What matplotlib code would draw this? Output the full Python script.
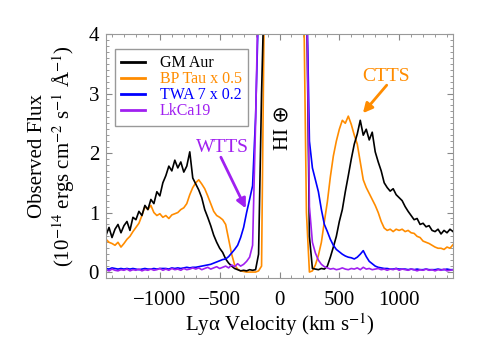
import numpy as np
import matplotlib
matplotlib.use("Agg")
import matplotlib.pyplot as plt
from matplotlib.ticker import MultipleLocator

plt.rcParams['font.family'] = ['Liberation Serif', 'DejaVu Serif']
plt.rcParams['mathtext.fontset'] = 'stix'

# velocity grid (km/s), 25 km/s bins
velocity = np.arange(-1450, 1451, 25)

gm_aur = [
    0.62, 0.75, 0.58, 0.72, 0.80, 0.66, 0.78, 0.85, 0.70, 0.92,
    0.88, 1.02, 0.95, 1.12, 1.05, 1.22, 1.15, 1.35, 1.28, 1.50,
    1.62, 1.78, 1.70, 1.88, 1.75, 1.85, 1.68, 1.78, 2.02, 1.58,
    1.48, 1.38, 1.25, 1.05, 0.92, 0.78, 0.62, 0.50, 0.40, 0.33,
    0.22, 0.15, 0.10, 0.06, 0.04, 0.02, 0.03, 0.02, 0.04, 0.03,
    0.04, 0.30, 3.00, 5.00, 5.00, 5.00, 5.00, 5.00, 5.00, 5.00,
    5.00, 5.00, 5.00, 5.00, 5.00, 5.00, 5.00, 5.00, 0.60, 0.06,
    0.05, 0.04, 0.06, 0.05, 0.10, 0.25, 0.42, 0.60, 0.85, 1.05,
    1.35, 1.62, 1.90, 2.15, 2.32, 2.55, 2.30, 2.40, 2.22, 2.35,
    2.02, 1.85, 1.70, 1.50, 1.42, 1.36, 1.40, 1.30, 1.25, 1.20,
    1.10, 1.02, 0.95, 0.88, 0.90, 0.80, 0.82, 0.76, 0.78, 0.70,
    0.68, 0.72, 0.64, 0.70, 0.66, 0.72, 0.68,
]

bp_tau = [
    0.55, 0.50, 0.48, 0.45, 0.50, 0.42, 0.48, 0.55, 0.60, 0.68,
    0.75, 0.82, 0.95, 1.10, 1.05, 1.12, 1.00, 0.95, 0.98, 0.92,
    0.95, 0.90, 0.96, 0.98, 1.00, 1.05, 1.08, 1.15, 1.30, 1.42,
    1.50, 1.55, 1.48, 1.40, 1.28, 1.15, 1.02, 0.95, 0.92, 0.88,
    0.80, 0.55, 0.30, 0.12, 0.05, 0.02, 0.01, 0.00, 0.00, 0.00,
    0.00, 0.02, 0.10, 5.00, 5.00, 5.00, 5.00, 5.00, 5.00, 5.00,
    5.00, 5.00, 5.00, 5.00, 5.00, 5.00, 5.00, 1.00, 0.00, 0.02,
    0.12, 0.28, 0.50, 0.85, 1.18, 1.60, 1.95, 2.20, 2.40, 2.55,
    2.50, 2.62, 2.48, 2.30, 2.15, 1.85, 1.55, 1.42, 1.32, 1.22,
    1.12, 1.00, 0.85, 0.74, 0.70, 0.72, 0.68, 0.72, 0.70, 0.72,
    0.68, 0.70, 0.66, 0.65, 0.60, 0.58, 0.52, 0.50, 0.48, 0.45,
    0.42, 0.40, 0.40, 0.38, 0.42, 0.40, 0.46,
]

twa7 = [
    0.06, 0.05, 0.07, 0.06, 0.05, 0.06, 0.05, 0.06, 0.05, 0.06,
    0.05, 0.04, 0.05, 0.06, 0.05, 0.05, 0.06, 0.05, 0.06, 0.06,
    0.06, 0.05, 0.07, 0.06, 0.07, 0.06, 0.07, 0.08, 0.07, 0.08,
    0.08, 0.09, 0.10, 0.11, 0.12, 0.13, 0.15, 0.17, 0.19, 0.21,
    0.22, 0.26, 0.32, 0.38, 0.45, 0.58, 0.75, 1.00, 1.22, 1.45,
    2.60, 4.50, 5.00, 5.00, 5.00, 5.00, 5.00, 5.00, 5.00, 5.00,
    5.00, 5.00, 5.00, 5.00, 5.00, 5.00, 5.00, 5.00, 2.20, 1.75,
    1.55, 1.35, 1.05, 0.80, 0.68, 0.55, 0.45, 0.38, 0.34, 0.30,
    0.27, 0.25, 0.24, 0.22, 0.25, 0.30, 0.36, 0.26, 0.18, 0.14,
    0.10, 0.08, 0.07, 0.06, 0.06, 0.05, 0.05, 0.06, 0.05, 0.05,
    0.05, 0.04, 0.05, 0.04, 0.05, 0.04, 0.04, 0.05, 0.04, 0.04,
    0.04, 0.05, 0.04, 0.04, 0.05, 0.04, 0.04,
]

lkca19 = [
    0.04, 0.02, 0.05, 0.03, 0.02, 0.04, 0.03, 0.05, 0.02, 0.04,
    0.03, 0.05, 0.02, 0.04, 0.03, 0.05, 0.03, 0.04, 0.06, 0.03,
    0.05, 0.03, 0.06, 0.04, 0.05, 0.03, 0.06, 0.04, 0.05, 0.07,
    0.05, 0.07, 0.04, 0.06, 0.08, 0.05, 0.07, 0.09, 0.06, 0.08,
    0.10, 0.07, 0.12, 0.09, 0.14, 0.10, 0.13, 0.18, 0.25, 0.45,
    2.50, 5.00, 5.00, 5.00, 5.00, 5.00, 5.00, 5.00, 5.00, 5.00,
    5.00, 5.00, 5.00, 5.00, 5.00, 5.00, 5.00, 5.00, 1.10, 0.50,
    0.32, 0.20, 0.13, 0.09, 0.07, 0.05, 0.06, 0.04, 0.05, 0.07,
    0.05, 0.04, 0.06, 0.05, 0.07, 0.04, 0.08, 0.05, 0.06, 0.04,
    0.05, 0.06, 0.04, 0.05, 0.03, 0.05, 0.04, 0.06, 0.03, 0.05,
    0.04, 0.03, 0.05, 0.04, 0.02, 0.04, 0.03, 0.05, 0.03, 0.04,
    0.02, 0.04, 0.03, 0.05, 0.02, 0.03, 0.04,
]

series_labels = ["GM Aur", "BP Tau x 0.5", "TWA 7 x 0.2", "LkCa19"]
series_colors = ["black", "#FF8C00", "#0000FF", "#A020F0"]

fig = plt.figure(figsize=(4.85, 3.46), dpi=100)
ax = fig.add_axes([0.2186, 0.1965, 0.7154, 0.7052])

data = [gm_aur, bp_tau, twa7, lkca19]
order = [1, 0, 2, 3]
handles = {}
for i in order:
    h, = ax.plot(velocity, data[i], color=series_colors[i],
                 lw=1.2, label=series_labels[i])
    handles[i] = h

ax.set_xlim(-1450, 1450)
ax.set_ylim(-0.1, 4.0)
ax.xaxis.set_major_locator(MultipleLocator(500))
ax.xaxis.set_minor_locator(MultipleLocator(100))
ax.yaxis.set_major_locator(MultipleLocator(1))
ax.yaxis.set_minor_locator(MultipleLocator(0.1))
ax.set_xticks([-1000, -500, 0, 500, 1000])
ax.tick_params(which='both', direction='in', top=True, right=True, color='#888888',
               labelsize=15)
ax.tick_params(axis='x', which='major', pad=9)
ax.tick_params(axis='y', which='major', pad=5)
ax.tick_params(which='major', length=4, width=0.8)
ax.tick_params(which='minor', length=2, width=0.6)
for s in ax.spines.values():
    s.set_color('#999999')
    s.set_linewidth(0.8)

ax.set_xlabel("Ly\u03b1 Velocity (km s$^{-1}$)", fontsize=15, labelpad=1)
ax.set_ylabel("Observed Flux\n(10$^{-14}$ ergs cm$^{-2}$ s$^{-1}$ \u00c5$^{-1}$)",
              fontsize=15, labelpad=8, linespacing=1.2)

leg = ax.legend([handles[i] for i in range(4)], series_labels, loc='upper left',
                bbox_to_anchor=(0.026, 0.939), borderaxespad=0, fontsize=11.5,
                handlelength=1.5, labelspacing=0.0, fancybox=False,
                edgecolor='#999999', framealpha=1, borderpad=0.4, handletextpad=0.9)
for t, c in zip(leg.get_texts(), series_colors):
    t.set_color(c)
for l in leg.get_lines():
    l.set_linewidth(2.0)

ax.text(30, 2.43, "HI \u2295", rotation=90, ha='center', va='center', fontsize=15,
        family=['Liberation Serif', 'DejaVu Sans'])

ax.text(-473, 2.1, "WTTS", color='#A020F0', ha='center', va='center', fontsize=14,
        zorder=6)
ax.annotate("", xy=(-282, 1.07), xytext=(-490, 1.93),
            arrowprops=dict(arrowstyle='-|>', color='#A020F0', lw=2,
                            mutation_scale=14, shrinkA=0, shrinkB=0))
ax.text(888, 3.29, "CTTS", color='#FF8C00', ha='center', va='center', fontsize=14)
ax.annotate("", xy=(697, 2.67), xytext=(896, 3.14),
            arrowprops=dict(arrowstyle='-|>', color='#FF8C00', lw=2,
                            mutation_scale=14, shrinkA=0, shrinkB=0))

fig.savefig("out.png", dpi=100)
